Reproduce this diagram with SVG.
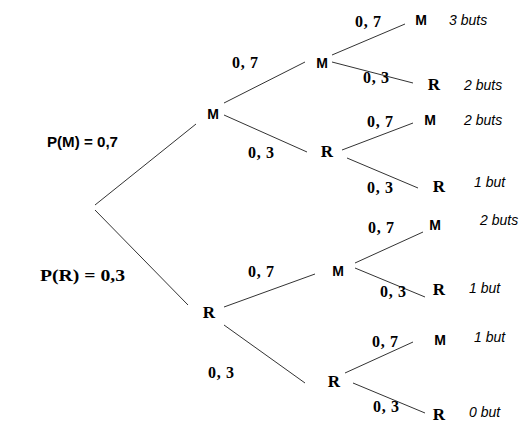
<svg xmlns="http://www.w3.org/2000/svg" width="521" height="427" viewBox="0 0 521 427">
<style>
.e{stroke:#333;stroke-width:1;fill:none}
.ns{font-family:"Liberation Sans",Arial,sans-serif;font-weight:bold;font-size:14px;fill:#000;text-anchor:middle}
.nr{font-family:"Liberation Serif","Times New Roman",serif;font-weight:bold;font-size:17px;fill:#000;text-anchor:middle}
.p{font-family:"Liberation Serif","Times New Roman",serif;font-weight:bold;font-size:16px;fill:#000}
.g{font-family:"Liberation Sans",Arial,sans-serif;font-style:italic;font-size:14px;fill:#000}
.t{font-family:"Liberation Sans",Arial,sans-serif;font-weight:bold;font-size:14px;fill:#000}
.ts{font-family:"Liberation Serif","Times New Roman",serif;font-weight:bold;font-size:17px;fill:#000}
</style>
<rect width="521" height="427" fill="#fff"/>
<g id="connectors">
<line class="e" x1="95" y1="205" x2="196" y2="124"/>
<line class="e" x1="95" y1="210" x2="188" y2="305"/>
<line class="e" x1="224" y1="103" x2="305" y2="62"/>
<line class="e" x1="224" y1="115" x2="307" y2="152"/>
<line class="e" x1="332" y1="55" x2="405" y2="24"/>
<line class="e" x1="332" y1="62" x2="413" y2="83"/>
<line class="e" x1="342" y1="150" x2="413" y2="123"/>
<line class="e" x1="347" y1="158" x2="418" y2="188"/>
<line class="e" x1="224" y1="307" x2="315" y2="274"/>
<line class="e" x1="224" y1="325" x2="305" y2="383"/>
<line class="e" x1="355" y1="263" x2="423" y2="232"/>
<line class="e" x1="355" y1="268" x2="425" y2="297"/>
<line class="e" x1="345" y1="373" x2="413" y2="342"/>
<line class="e" x1="353" y1="383" x2="425" y2="413"/>
</g>
<g id="labels">
<text class="t" x="47" y="147" textLength="71" lengthAdjust="spacingAndGlyphs">P(M) = 0,7</text>
<text class="ts" x="40" y="281" textLength="85" lengthAdjust="spacingAndGlyphs">P(R) = 0,3</text>
<text class="p" x="232" y="68" textLength="26">0, 7</text>
<text class="p" x="248" y="158" textLength="26">0, 3</text>
<text class="p" x="355" y="27" textLength="26">0, 7</text>
<text class="p" x="363" y="83" textLength="26">0, 3</text>
<text class="p" x="367" y="127" textLength="26">0, 7</text>
<text class="p" x="367" y="193" textLength="26">0, 3</text>
<text class="p" x="248" y="277" textLength="26">0, 7</text>
<text class="p" x="208" y="378" textLength="26">0, 3</text>
<text class="p" x="368" y="233" textLength="26">0, 7</text>
<text class="p" x="380" y="297" textLength="26">0, 3</text>
<text class="p" x="372" y="347" textLength="26">0, 7</text>
<text class="p" x="373" y="412" textLength="26">0, 3</text>
</g>
<g id="n-M"><text class="ns" x="213" y="119">M</text></g>
<g id="n-R"><text class="nr" x="209" y="318">R</text></g>
<g id="n-MM"><text class="ns" x="322" y="68">M</text></g>
<g id="n-MR"><text class="nr" x="327" y="157">R</text></g>
<g id="n-RM"><text class="ns" x="338" y="276">M</text></g>
<g id="n-RR"><text class="nr" x="334" y="387">R</text></g>
<g id="n-MMM"><text class="ns" x="421" y="25">M</text><text class="g" x="449" y="25">3 buts</text></g>
<g id="n-MMR"><text class="nr" x="434" y="90">R</text><text class="g" x="464" y="90">2 buts</text></g>
<g id="n-MRM"><text class="ns" x="430" y="125">M</text><text class="g" x="464" y="125">2 buts</text></g>
<g id="n-MRR"><text class="nr" x="439" y="192">R</text><text class="g" x="474" y="187">1 but</text></g>
<g id="n-RMM"><text class="ns" x="435" y="230">M</text><text class="g" x="480" y="225">2 buts</text></g>
<g id="n-RMR"><text class="nr" x="439" y="295">R</text><text class="g" x="469" y="293">1 but</text></g>
<g id="n-RRM"><text class="ns" x="440" y="345">M</text><text class="g" x="474" y="342">1 but</text></g>
<g id="n-RRR"><text class="nr" x="439" y="420">R</text><text class="g" x="469" y="417">0 but</text></g>
</svg>
